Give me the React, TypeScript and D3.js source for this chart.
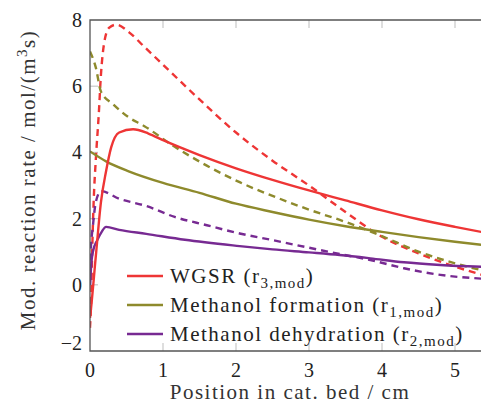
import React from 'react'
import * as d3 from 'd3'

// values (position in cm -> rate)
const wgsrX = [0, 0.01, 0.08, 0.15, 0.22, 0.29, 0.4, 0.59, 0.8, 1.0, 1.5, 2.0, 2.5, 3.0, 3.5, 4.0, 4.5, 5.0, 5.4]
const wgsrY = [-1.0, -0.8, 0.87, 2.5, 3.43, 4.15, 4.6, 4.7, 4.57, 4.37, 3.92, 3.52, 3.17, 2.85, 2.55, 2.25, 1.98, 1.75, 1.58]

const wgsrDashX = [0, 0.015, 0.03, 0.05, 0.08, 0.12, 0.15, 0.19, 0.26, 0.36, 0.54, 0.74, 1.0, 1.5, 2.0, 2.5, 3.0, 3.5, 4.0, 4.5, 5.0, 5.4]
const wgsrDashY = [-1.3, -0.5, 1.0, 2.5, 3.8, 5.15, 6.35, 7.25, 7.76, 7.86, 7.62, 7.2, 6.65, 5.6, 4.6, 3.75, 3.0, 2.2, 1.45, 0.95, 0.55, 0.28]

const formX = [0, 0.22, 0.53, 1.0, 1.5, 2.0, 2.5, 3.0, 3.5, 4.0, 4.5, 5.0, 5.4]
const formY = [4.03, 3.73, 3.43, 3.08, 2.78, 2.45, 2.2, 1.97, 1.77, 1.6, 1.44, 1.3, 1.2]

const formDashX = [0, 0.08, 0.15, 0.32, 0.53, 0.74, 1.14, 1.6, 2.05, 2.6, 3.0, 3.5, 4.0, 4.5, 5.0, 5.4]
const formDashY = [7.05, 6.56, 5.84, 5.45, 5.06, 4.8, 4.2, 3.6, 3.1, 2.6, 2.27, 1.9, 1.47, 1.0, 0.65, 0.42]

const dehydX = [0, 0.02, 0.04, 0.1, 0.16, 0.22, 0.4, 0.77, 1.3, 2.05, 2.5, 3.0, 3.42, 3.84, 4.3, 4.8, 5.4]
const dehydY = [0, 0.7, 1.0, 1.35, 1.6, 1.75, 1.66, 1.54, 1.36, 1.17, 1.07, 0.98, 0.9, 0.8, 0.68, 0.6, 0.54]

const dehydDashX = [0, 0.01, 0.04, 0.08, 0.15, 0.4, 0.77, 1.16, 1.6, 2.05, 2.5, 3.0, 3.42, 3.84, 4.3, 4.8, 5.4]
const dehydDashY = [0, 1.0, 1.78, 2.5, 2.83, 2.6, 2.38, 2.05, 1.8, 1.55, 1.35, 1.12, 0.93, 0.75, 0.5, 0.3, 0.18]

const xTicks = [0, 1, 2, 3, 4, 5]
const yTicks = [-2, 0, 2, 4, 6, 8]

const legendNames = ['WGSR', 'Methanol formation', 'Methanol dehydration']
const legendSubs = ['3,mod', '1,mod', '2,mod']

const RED = '#ee3535'
const OLIVE = '#8e8a2c'
const PURPLE = '#772a92'

const W = 481
const H = 414
// the TeX font is wider than Times, so the titles get a little letter spacing
const serif = { fontFamily: "'Liberation Serif'" }
const wide = { fontFamily: "'Liberation Serif'", letterSpacing: '1.5px' }

const App = () => {
    const margin = { top: 20, left: 90, bottom: 63 }
    const plotBottom = H - margin.bottom

    const xScale = d3.scaleLinear().domain([0, 5.4]).range([margin.left, margin.left + 5.4 * 73])
    const yScale = d3.scaleLinear().domain([-2, 8]).range([plotBottom, margin.top])

    const line = d3
        .line<[number, number]>()
        .x((d) => xScale(d[0]))
        .y((d) => yScale(d[1]))
        .curve(d3.curveMonotoneX)

    const zip = (xs: number[], ys: number[]): [number, number][] => xs.map((x, i) => [x, ys[i]])

    const series = [
        { pts: zip(wgsrDashX, wgsrDashY), color: RED, dash: true },
        { pts: zip(formDashX, formDashY), color: OLIVE, dash: true },
        { pts: zip(dehydDashX, dehydDashY), color: PURPLE, dash: true },
        { pts: zip(dehydX, dehydY), color: PURPLE, dash: false },
        { pts: zip(formX, formY), color: OLIVE, dash: false },
        { pts: zip(wgsrX, wgsrY), color: RED, dash: false },
    ]
    const legendColors = [RED, OLIVE, PURPLE]

    const tickColor = '#c8c8c8'
    const axisColor = '#555'
    const right = W + 5

    return (
        <svg width={W} height={H} style={{ position: 'absolute', left: 0, top: 0 }}>
            <rect width={W} height={H} fill="white" />
            <clipPath id="plot">
                <rect x={margin.left} y={margin.top} width={right - margin.left} height={plotBottom - margin.top} />
            </clipPath>

            {/* tick marks, inside the box */}
            {xTicks.slice(1).map((t) => (
                <g key={'xt' + t} stroke={tickColor} strokeWidth={1.2}>
                    <line x1={xScale(t)} x2={xScale(t)} y1={plotBottom} y2={plotBottom - 8} />
                    <line x1={xScale(t)} x2={xScale(t)} y1={margin.top} y2={margin.top + 8} />
                </g>
            ))}
            {yTicks.slice(1, -1).map((t) => (
                <line key={'yt' + t} x1={margin.left} x2={margin.left + 8} y1={yScale(t)} y2={yScale(t)} stroke={tickColor} strokeWidth={1.2} />
            ))}

            {/* curves */}
            <g clipPath="url(#plot)">
                {series.map((s, i) => (
                    <path
                        key={i}
                        d={line(s.pts) ?? ''}
                        fill="none"
                        stroke={s.color}
                        strokeWidth={2.4}
                        strokeDasharray={s.dash ? '7,5' : undefined}
                    />
                ))}
            </g>

            {/* axis box */}
            <path
                d={`M${right},${margin.top}H${margin.left}V${plotBottom}H${right}`}
                fill="none"
                stroke={axisColor}
                strokeWidth={1.3}
            />

            {/* tick labels */}
            {xTicks.map((t) => (
                <text key={'xl' + t} x={xScale(t)} y={plotBottom + 26} textAnchor="middle" fontSize={20} fill="#222" style={serif}>
                    {t}
                </text>
            ))}
            {yTicks.map((t) => (
                <text
                    key={'yl' + t}
                    x={margin.left - 8}
                    y={yScale(t) + 7 - (t === -2 ? 8 : 0)}
                    textAnchor="end"
                    fontSize={20}
                    fill="#222"
                    style={serif}
                >
                    {t < 0 ? '\u2212' + Math.abs(t) : t}
                </text>
            ))}

            {/* axis titles */}
            <text x={290} y={H - 15} textAnchor="middle" fontSize={21} fill="#333" style={wide}>
                Position in cat. bed / cm
            </text>
            <text transform={`translate(35, 180) rotate(-90)`} textAnchor="middle" fontSize={21} fill="#333" style={wide}>
                Mod. reaction rate / mol/(m
                <tspan dy={-8} fontSize={15}>3</tspan>
                <tspan dy={8}>s)</tspan>
            </text>

            {/* legend */}
            {legendNames.map((name, i) => {
                const y = 276 + i * 29
                return (
                    <g key={name}>
                        <line x1={127} x2={163} y1={y} y2={y} stroke={legendColors[i]} strokeWidth={2.4} />
                        <text x={170} y={y + 7} fontSize={21} fill="#222" style={wide}>
                            {name} (r
                            <tspan dy={5} fontSize={15}>{legendSubs[i]}</tspan>
                            <tspan dy={-5}>)</tspan>
                        </text>
                    </g>
                )
            })}
        </svg>
    )
}

export default App
